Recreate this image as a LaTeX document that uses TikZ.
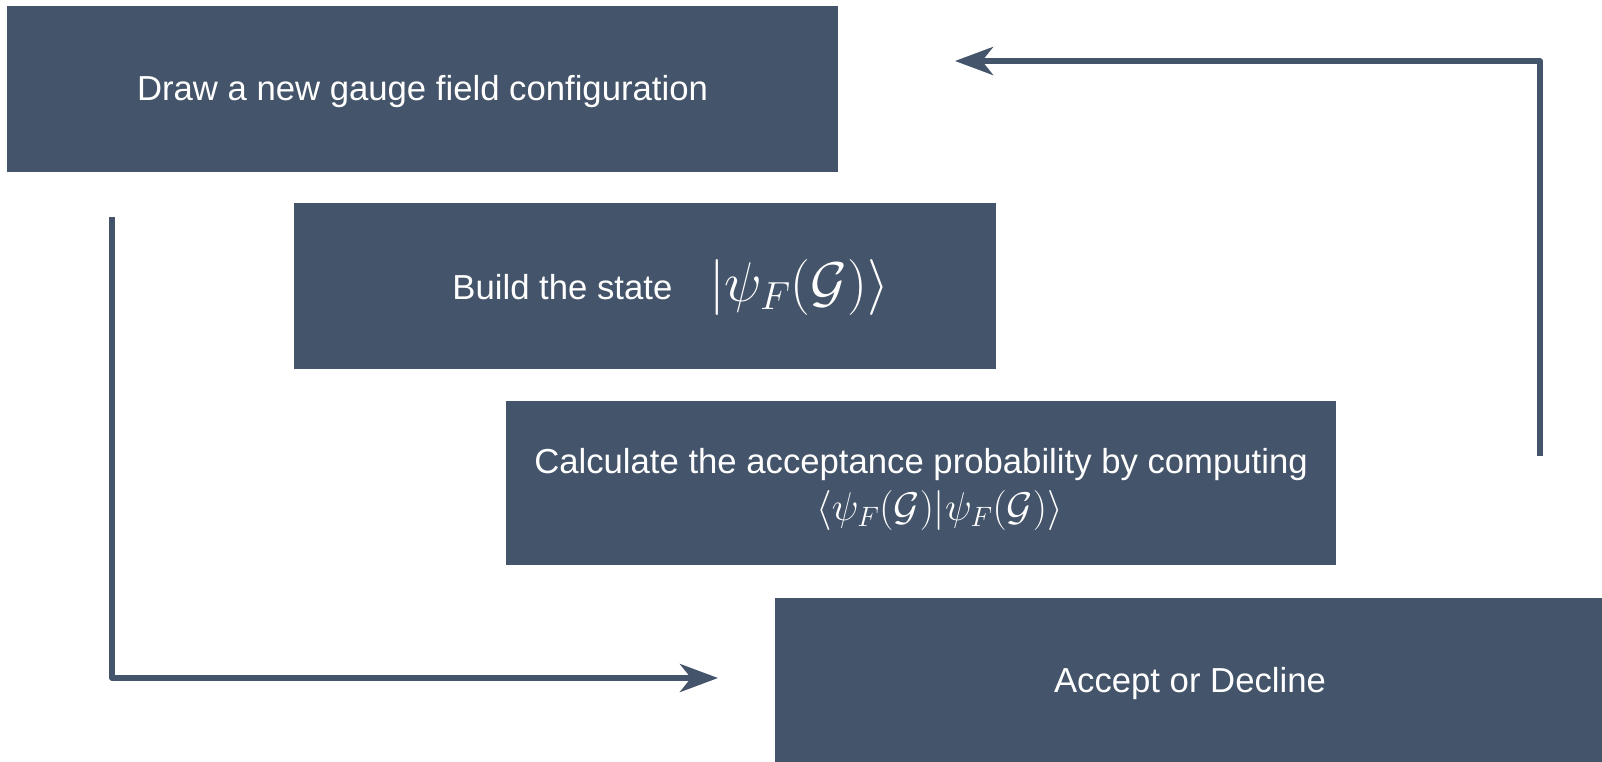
\RequirePackage{fix-cm}
\documentclass[tikz,border=0pt]{standalone}
\usepackage{fontspec}
\setmainfont{Liberation Sans}
\usetikzlibrary{arrows.meta}
\definecolor{slate}{HTML}{44546A}
\begin{document}
\begin{tikzpicture}[x=1pt,y=-1pt,
  stepbox/.style={fill=slate,draw=none,inner sep=0pt},
  steptext/.style={inner sep=0pt,text=white,font=\fontsize{34.7}{42}\selectfont},
  flow/.style={draw=slate,line width=5.7pt,line join=round,
    -{Stealth[length=38pt,width=28pt,inset=11pt]}}]
\useasboundingbox (0,0) rectangle (1602,761);
% the four steps of the loop
\node[stepbox,minimum width=831pt,minimum height=165.6pt] (b1) at (422.5,88.8) {};
\node[stepbox,minimum width=702pt,minimum height=166pt] (b2) at (645,286) {};
\node[stepbox,minimum width=830pt,minimum height=164.5pt] (b3) at (921,482.75) {};
\node[stepbox,minimum width=830pt,minimum height=165pt] (b4) at (1190,680.5) {};
% their texts
\node[steptext] (t1) at (422.5,91.9) {Draw a new gauge field configuration};
\node[steptext] (t2a) at (562.4,287) {Build the state};
\node[steptext,font=\fontsize{56}{60}\selectfont] (t2b) at (799,287.1)
  {$|\psi_F(\mathcal{G})\rangle$};
\node[steptext] (t3a) at (921,465) {Calculate the acceptance probability by computing};
\node[steptext,font=\fontsize{40}{44}\selectfont] (t3b) at (939.5,510.9)
  {$\langle\psi_F(\mathcal{G})|\psi_F(\mathcal{G})\rangle$};
\node[steptext] (t4) at (1190,683.6) {Accept or Decline};
% return arrows
\coordinate (r0) at (1540,456);
\coordinate (r1) at (1540,61);
\coordinate (r2) at (955,61);
\coordinate (l0) at (112,217);
\coordinate (l1) at (112,678);
\coordinate (l2) at (718,678);
\draw[flow] (r0) -- (r1) -- (r2);
\draw[flow] (l0) -- (l1) -- (l2);
\end{tikzpicture}
\end{document}
